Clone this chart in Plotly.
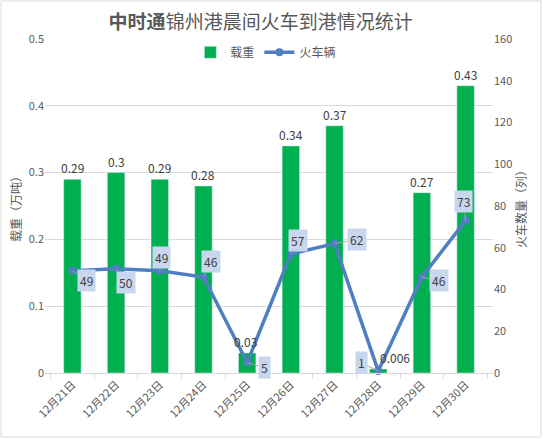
import plotly.graph_objects as go

dates = ["12月21日", "12月22日", "12月23日", "12月24日", "12月25日",
         "12月26日", "12月27日", "12月28日", "12月29日", "12月30日"]
load = [0.29, 0.3, 0.29, 0.28, 0.03, 0.34, 0.37, 0.006, 0.27, 0.43]   # 万吨
trains = [49, 50, 49, 46, 5, 57, 62, 1, 46, 73]                        # 列

# label offsets (px)
load_dx = [0, 0, 0, 0, -2, 0, 0, 17, 0, 0]
box_dx = [14, 10, 2, 8, 17, 7, 22, -17, 17, -2]
box_dy = [10, 14, -13, -15, 5, -14, -4, -8, 4, -19]

GREEN = "#00B050"
BLUE = "#4F7EC1"
GREY = "#595959"

fig = go.Figure()
fig.add_trace(go.Bar(
    x=dates, y=load, name="载重",
    marker_color=GREEN, width=0.4,
))
fig.add_trace(go.Scatter(
    x=dates, y=trains, name="火车辆", yaxis="y2",
    mode="lines+markers",
    line=dict(color=BLUE, width=3.5),
    marker=dict(size=8, color=BLUE),
    cliponaxis=False,
))

for d, v, dx in zip(dates, load, load_dx):
    fig.add_annotation(
        x=d, y=v, text=str(v), showarrow=False,
        yanchor="bottom", xshift=dx, yshift=1,
        font=dict(size=12, color="#404040"),
    )

for d, v, dx, dy in zip(dates, trains, box_dx, box_dy):
    fig.add_annotation(
        x=d, y=v, yref="y2", text=str(v),
        showarrow=True, arrowhead=0, arrowwidth=1, arrowcolor="#A6A6A6",
        ax=dx, ay=dy, standoff=0,
        bgcolor="#C8D7EE", borderpad=2,
        font=dict(size=12, color="#404040"),
    )

# chart border
fig.add_shape(type="rect", xref="paper", yref="paper",
              x0=-0.098, x1=1.107, y0=-0.192, y1=1.114,
              line=dict(color="#D9D9D9", width=1), layer="below")

fig.update_layout(
    width=543, height=439,
    margin=dict(l=45, r=50, t=39, b=66),
    paper_bgcolor="white", plot_bgcolor="white",
    font=dict(family="Noto Sans CJK SC, Microsoft YaHei, sans-serif", color=GREY, size=11),
    title=dict(text="<b>中时通</b>锦州港晨间火车到港情况统计",
               x=0.48, xanchor="center", y=0.95, yanchor="middle",
               font=dict(size=19, color=GREY)),
    legend=dict(orientation="h", x=0.493, xanchor="center", y=0.96, yanchor="middle",
                font=dict(size=12, color=GREY), bgcolor="rgba(0,0,0,0)",
                itemwidth=30, traceorder="normal"),
    xaxis=dict(
        tickangle=-45, showline=True, linecolor="#D9D9D9",
        ticks="outside", tickson="boundaries", ticklen=5, tickcolor="#D9D9D9",
        tickfont=dict(size=11, color=GREY), automargin=False,
    ),
    yaxis=dict(
        range=[0, 0.5], dtick=0.1, showgrid=True, gridcolor="#D9D9D9",
        zeroline=False, showline=False, automargin=False,
        tickfont=dict(size=11, color=GREY),
        title=dict(text="载重（万吨）", standoff=4, font=dict(size=12, color=GREY)),
    ),
    yaxis2=dict(
        range=[0, 160], dtick=20, overlaying="y", side="right",
        showgrid=False, zeroline=False, showline=False, automargin=False,
        tickfont=dict(size=11, color=GREY),
        title=dict(text="火车数量（列）", standoff=4, font=dict(size=12, color=GREY)),
    ),
    bargap=0.6,
)

fig.write_html("out.html", config={"displayModeBar": False},
               post_script="document.body.style.margin='0';")
